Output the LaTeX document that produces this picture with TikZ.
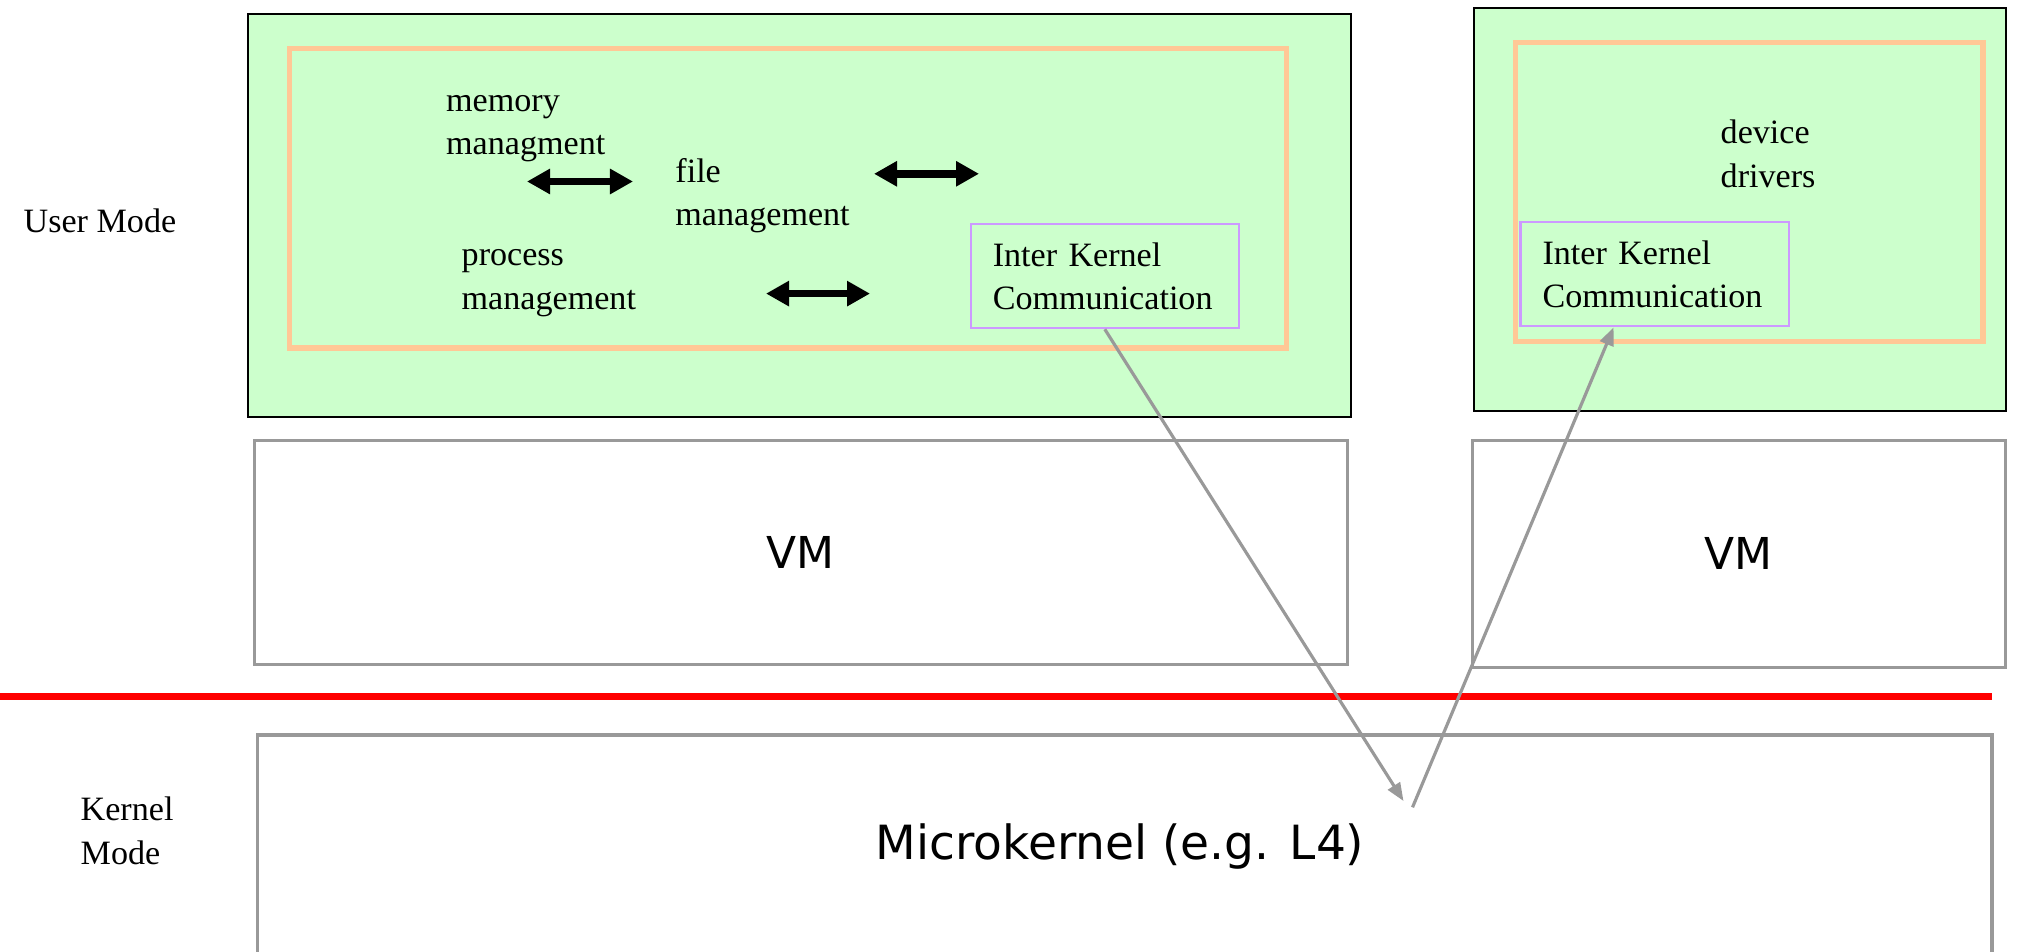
\documentclass[tikz,border=0pt]{standalone}
\usepackage{fontspec}
\setmainfont{Liberation Serif}
\newfontfamily\vmfont{DejaVu Sans}
\usetikzlibrary{arrows.meta}
\definecolor{boxgreen}{HTML}{CCFFCC}
\definecolor{peach}{HTML}{FFC896}
\definecolor{lilac}{HTML}{CC99FF}
\definecolor{greyline}{HTML}{999999}

\begin{document}
\begin{tikzpicture}[x=0.01cm, y=-0.01cm,
	lbl/.style={inner sep=0pt, anchor=west, align=left, font=\fontsize{9.7pt}{12.4pt}\selectfont},
	space/.style={draw=black, line width=0.6pt, fill=boxgreen, minimum height=4.03cm},
	server/.style={draw=peach, line width=1.5pt, minimum height=2.99cm},
	ikc/.style={draw=lilac, line width=0.6pt, minimum height=1.04cm, text width=2.24cm, inner xsep=0.22cm, align=left, font=\fontsize{9.7pt}{12.4pt}\selectfont},
	vmbox/.style={draw=greyline, line width=0.9pt, minimum height=2.24cm, font=\vmfont\fontsize{12.5pt}{15pt}\selectfont},
	fat/.style={{Triangle[length=0.23cm,width=0.24cm]}-{Triangle[length=0.23cm,width=0.24cm]}, line width=2.2pt},
	ipc/.style={-{Triangle[length=0.18cm,width=0.14cm]}, draw=greyline, line width=0.9pt}]
		\useasboundingbox (0,0) rectangle (2019,952);

		\node[lbl] (umode) at (23,221) {User Mode};
		\node[lbl] (kmode) at (80,831) {Kernel\\Mode};

		\node[space, minimum width=11.02cm] (spaceL) at (799.6,215.7) {};
		\node[server, minimum width=9.97cm] (serverL) at (788,198.3) {};
		\node[lbl] (mem) at (445.5,128.5) {memory\\managment};
		\node[lbl] (file) at (674.7,195.5) {file\\management};
		\node[lbl] (proc) at (461,283) {process\\management};
		\node[ikc] (ikcL) at (1104.8,276.2) {Inter Kernel\\Communication};

		\coordinate (m1) at (527,181.5);
		\coordinate (m2) at (633,181.5);
		\coordinate (f1) at (874,173.8);
		\coordinate (f2) at (979,173.8);
		\coordinate (p1) at (766,293.6);
		\coordinate (p2) at (870,293.6);
		\draw[fat] (m1) -- (m2);
		\draw[fat] (f1) -- (f2);
		\draw[fat] (p1) -- (p2);

		\node[space, minimum width=5.32cm] (spaceR) at (1740.2,209.2) {};
		\node[server, minimum width=4.67cm] (serverR) at (1749.2,191.9) {};
		\node[lbl] (dev) at (1720,154) {device\\drivers};
		\node[ikc] (ikcR) at (1654.6,274.3) {Inter Kernel\\Communication};

		\node[vmbox, minimum width=10.92cm] (vmL) at (800.9,552.4) {VM};
		\node[vmbox, minimum width=5.32cm, minimum height=2.27cm] (vmR) at (1738.9,553.7) {VM};

		\draw[red, line width=2pt] (0,696.6) -- (1992,696.6);

		\draw[greyline, line width=0.9pt] (257.5,970) -- (257.5,735) -- (1992,735) -- (1992,970);
		\node[font=\vmfont\fontsize{13.4pt}{16pt}\selectfont] (mk) at (1120,846) {Microkernel (e.g. L4)};

		\coordinate (k1) at (1403.5,801);
		\coordinate (k2) at (1412.5,807.3);
		\draw[ipc] (ikcL.south) -- (k1);
		\draw[ipc] (k2) -- ([xshift=-0.41cm]ikcR.south);
\end{tikzpicture}
\end{document}
